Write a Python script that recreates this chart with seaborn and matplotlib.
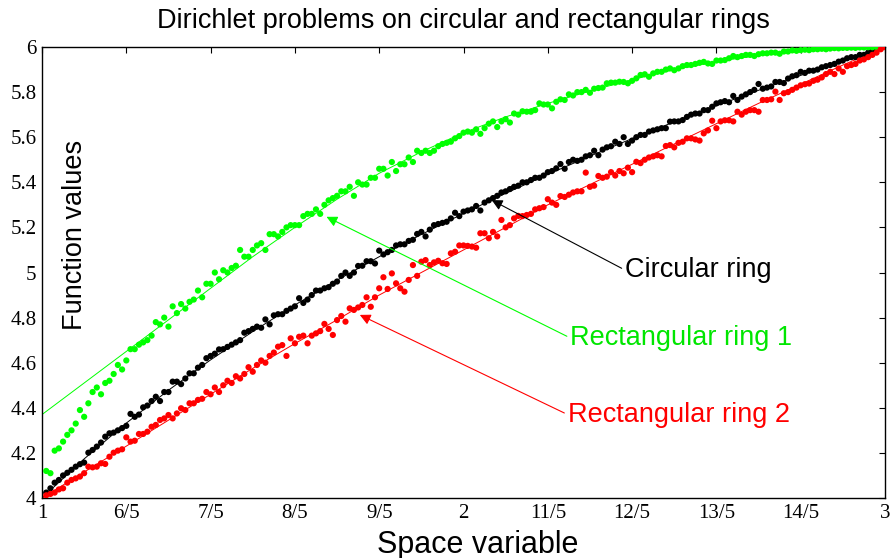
import numpy as np
import pandas as pd
import matplotlib
matplotlib.use("Agg")
import matplotlib.pyplot as plt
import seaborn as sns

# smooth reference curves, read at x = 1.0, 1.1, ..., 3.0
x_line = [1.0, 1.1, 1.2, 1.3, 1.4, 1.5, 1.6, 1.7, 1.8, 1.9, 2.0,
          2.1, 2.2, 2.3, 2.4, 2.5, 2.6, 2.7, 2.8, 2.9, 3.0]
circ_line = [4.0, 4.1735, 4.332, 4.478, 4.6125, 4.738, 4.856, 4.966, 5.070, 5.1685, 5.262,
             5.351, 5.435, 5.516, 5.594, 5.668, 5.7395, 5.808, 5.874, 5.938, 6.0]
rect1_line = [4.37, 4.51, 4.65, 4.79, 4.93, 5.07, 5.20, 5.325, 5.44, 5.535, 5.62,
              5.69, 5.75, 5.805, 5.855, 5.90, 5.935, 5.963, 5.983, 5.995, 6.0]
rect2_line = [4.0, 4.115, 4.23, 4.345, 4.46, 4.575, 4.685, 4.79, 4.90, 5.00, 5.10,
              5.20, 5.30, 5.39, 5.48, 5.57, 5.66, 5.75, 5.835, 5.92, 6.0]

# estimated points (200 per ring, x = 1.01 ... 3.00)
x_dots = np.round(np.linspace(1.01, 3.0, 200), 2)
circ_dots = [
    4.024, 4.043, 4.068, 4.080, 4.100, 4.112, 4.125, 4.139, 4.150, 4.157,
    4.201, 4.213, 4.228, 4.246, 4.272, 4.287, 4.290, 4.300, 4.310, 4.320,
    4.373, 4.360, 4.370, 4.402, 4.410, 4.430, 4.449, 4.430, 4.470, 4.470,
    4.516, 4.516, 4.505, 4.530, 4.553, 4.553, 4.578, 4.590, 4.620, 4.630,
    4.640, 4.659, 4.660, 4.670, 4.680, 4.690, 4.700, 4.733, 4.740, 4.750,
    4.760, 4.755, 4.792, 4.770, 4.810, 4.815, 4.815, 4.830, 4.840, 4.850,
    4.886, 4.865, 4.880, 4.900, 4.920, 4.920, 4.930, 4.935, 4.950, 4.960,
    4.985, 5.000, 4.985, 5.000, 5.029, 5.030, 5.050, 5.050, 5.040, 5.097,
    5.080, 5.090, 5.100, 5.120, 5.125, 5.125, 5.140, 5.145, 5.171, 5.180,
    5.160, 5.190, 5.210, 5.215, 5.220, 5.225, 5.240, 5.265, 5.250, 5.270,
    5.275, 5.280, 5.295, 5.275, 5.310, 5.320, 5.330, 5.340, 5.355, 5.360,
    5.370, 5.380, 5.385, 5.400, 5.400, 5.410, 5.420, 5.420, 5.430, 5.445,
    5.450, 5.462, 5.481, 5.460, 5.490, 5.500, 5.495, 5.500, 5.515, 5.520,
    5.540, 5.520, 5.545, 5.555, 5.560, 5.580, 5.570, 5.600, 5.570, 5.585,
    5.600, 5.610, 5.610, 5.625, 5.630, 5.635, 5.640, 5.640, 5.669, 5.670,
    5.670, 5.676, 5.690, 5.700, 5.705, 5.705, 5.720, 5.720, 5.735, 5.750,
    5.755, 5.760, 5.755, 5.783, 5.765, 5.780, 5.790, 5.800, 5.810, 5.836,
    5.815, 5.820, 5.825, 5.845, 5.845, 5.840, 5.860, 5.870, 5.875, 5.890,
    5.885, 5.895, 5.895, 5.900, 5.910, 5.915, 5.920, 5.925, 5.935, 5.940,
    5.950, 5.955, 5.955, 5.965, 5.965, 5.975, 5.985, 5.990, 5.995, 6.000,
]
rect1_dots = [
    4.12, 4.11, 4.21, 4.22, 4.25, 4.28, 4.30, 4.33, 4.39, 4.36,
    4.42, 4.47, 4.49, 4.46, 4.51, 4.52, 4.55, 4.59, 4.57, 4.61,
    4.66, 4.66, 4.68, 4.69, 4.70, 4.72, 4.78, 4.77, 4.80, 4.76,
    4.85, 4.82, 4.86, 4.84, 4.87, 4.88, 4.92, 4.89, 4.95, 4.95,
    5.00, 4.97, 5.01, 5.00, 5.02, 5.03, 5.10, 5.07, 5.07, 5.10,
    5.12, 5.13, 5.10, 5.17, 5.17, 5.16, 5.18, 5.20, 5.21, 5.21,
    5.21, 5.25, 5.26, 5.26, 5.28, 5.26, 5.30, 5.32, 5.33, 5.34,
    5.36, 5.36, 5.38, 5.34, 5.40, 5.39, 5.39, 5.42, 5.42, 5.46,
    5.46, 5.43, 5.49, 5.45, 5.48, 5.48, 5.51, 5.49, 5.54, 5.53,
    5.54, 5.53, 5.54, 5.56, 5.57, 5.575, 5.58, 5.595, 5.605, 5.62,
    5.625, 5.62, 5.635, 5.615, 5.64, 5.66, 5.67, 5.645, 5.67, 5.68,
    5.665, 5.705, 5.70, 5.715, 5.713, 5.713, 5.72, 5.75, 5.745, 5.745,
    5.728, 5.757, 5.768, 5.765, 5.79, 5.785, 5.80, 5.80, 5.81, 5.797,
    5.815, 5.818, 5.82, 5.839, 5.842, 5.842, 5.846, 5.845, 5.839, 5.85,
    5.861, 5.876, 5.879, 5.868, 5.883, 5.89, 5.89, 5.90, 5.905, 5.897,
    5.905, 5.915, 5.92, 5.92, 5.925, 5.93, 5.934, 5.927, 5.925, 5.94,
    5.94, 5.942, 5.95, 5.96, 5.955, 5.96, 5.965, 5.965, 5.96, 5.968,
    5.972, 5.972, 5.975, 5.975, 5.97, 5.98, 5.98, 5.985, 5.983, 5.986,
    5.988, 5.986, 5.99, 5.99, 5.992, 5.99, 5.993, 5.995, 5.994, 5.996,
    5.996, 5.997, 5.996, 5.998, 5.998, 5.999, 5.999, 6.0, 6.0, 6.0,
]
rect2_dots = [
    4.012, 4.018, 4.024, 4.038, 4.043, 4.068, 4.080, 4.087, 4.095, 4.110,
    4.139, 4.136, 4.139, 4.154, 4.151, 4.183, 4.201, 4.210, 4.216, 4.269,
    4.250, 4.254, 4.284, 4.284, 4.294, 4.316, 4.324, 4.346, 4.353, 4.368,
    4.353, 4.375, 4.398, 4.390, 4.420, 4.420, 4.435, 4.440, 4.470, 4.460,
    4.490, 4.470, 4.500, 4.520, 4.510, 4.540, 4.530, 4.550, 4.580, 4.560,
    4.590, 4.610, 4.600, 4.630, 4.645, 4.671, 4.678, 4.630, 4.708, 4.686,
    4.715, 4.720, 4.686, 4.720, 4.730, 4.740, 4.772, 4.750, 4.723, 4.789,
    4.807, 4.782, 4.841, 4.834, 4.845, 4.856, 4.890, 4.848, 4.890, 4.930,
    4.979, 4.927, 4.996, 4.952, 4.930, 4.915, 4.967, 5.033, 4.985, 5.048,
    5.055, 5.033, 5.045, 5.052, 5.041, 5.038, 5.085, 5.092, 5.120, 5.120,
    5.118, 5.115, 5.110, 5.174, 5.174, 5.152, 5.180, 5.160, 5.233, 5.200,
    5.210, 5.240, 5.251, 5.250, 5.255, 5.260, 5.280, 5.285, 5.290, 5.325,
    5.310, 5.300, 5.339, 5.335, 5.345, 5.355, 5.360, 5.360, 5.443, 5.380,
    5.385, 5.428, 5.420, 5.425, 5.445, 5.430, 5.450, 5.440, 5.465, 5.445,
    5.491, 5.485, 5.500, 5.510, 5.515, 5.520, 5.515, 5.561, 5.565, 5.555,
    5.575, 5.580, 5.595, 5.595, 5.590, 5.585, 5.617, 5.630, 5.673, 5.640,
    5.670, 5.675, 5.675, 5.670, 5.713, 5.700, 5.713, 5.720, 5.720, 5.713,
    5.765, 5.765, 5.768, 5.802, 5.765, 5.795, 5.800, 5.810, 5.820, 5.830,
    5.835, 5.838, 5.850, 5.855, 5.865, 5.880, 5.890, 5.880, 5.905, 5.890,
    5.915, 5.920, 5.925, 5.940, 5.945, 5.955, 5.965, 5.975, 5.990, 6.000,
]

x_ticks = [1, 1.2, 1.4, 1.6, 1.8, 2, 2.2, 2.4, 2.6, 2.8, 3]
x_tick_labels = ["1", "6/5", "7/5", "8/5", "9/5", "2", "11/5", "12/5", "13/5", "14/5", "3"]
y_ticks = [4, 4.2, 4.4, 4.6, 4.8, 5, 5.2, 5.4, 5.6, 5.8, 6]
y_tick_labels = ["4", "4.2", "4.4", "4.6", "4.8", "5", "5.2", "5.4", "5.6", "5.8", "6"]

rings = ["circ", "rect1", "rect2"]
palette = {"circ": "#000000", "rect1": "#00ff00", "rect2": "#ff0000"}

lines = pd.concat([
    pd.DataFrame({"x": x_line, "y": circ_line, "ring": "circ"}),
    pd.DataFrame({"x": x_line, "y": rect1_line, "ring": "rect1"}),
    pd.DataFrame({"x": x_line, "y": rect2_line, "ring": "rect2"}),
], ignore_index=True)
dots = pd.concat([
    pd.DataFrame({"x": x_dots, "y": circ_dots, "ring": "circ"}),
    pd.DataFrame({"x": x_dots, "y": rect1_dots, "ring": "rect1"}),
    pd.DataFrame({"x": x_dots, "y": rect2_dots, "ring": "rect2"}),
], ignore_index=True)

sns.set_style("white")
plt.rcParams["font.family"] = ["Liberation Sans", "DejaVu Sans"]
plt.rcParams["text.color"] = "black"
plt.rcParams["axes.labelcolor"] = "black"

fig = plt.figure(figsize=(8.91, 5.58), dpi=100)
ax = fig.add_axes([42 / 891, 1 - 498 / 558, 843 / 891, 451 / 558])

sns.lineplot(data=lines, x="x", y="y", hue="ring", hue_order=rings, palette=palette,
             estimator=None, sort=False, lw=0.7, legend=False, ax=ax, zorder=2)
sns.scatterplot(data=dots, x="x", y="y", hue="ring", hue_order=rings, palette=palette,
                s=20, linewidth=0, legend=False, ax=ax, zorder=3)

ax.set_xlim(1, 3)
ax.set_ylim(4, 6)
ax.set_xticks(x_ticks)
ax.set_xticklabels(x_tick_labels)
ax.set_yticks(y_ticks)
ax.set_yticklabels(y_tick_labels)
ax.tick_params(direction="in", top=True, right=True, length=4, width=0.8,
               labelsize=15, labelfontfamily="Liberation Serif", colors="black", pad=4)
for sp in ax.spines.values():
    sp.set_color("black")
    sp.set_linewidth(1.0)

ax.set_title("Dirichlet problems on circular and rectangular rings", fontsize=19.5,
             pad=14, color="black")
ax.set_xlabel("Space variable", fontsize=22)
ax.xaxis.set_label_coords(0.517, -0.07)
ax.set_ylabel("Function values", fontsize=19.5)
ax.yaxis.set_label_coords(0.039, 0.583)
ax.yaxis.label.set_va("center")

arrow = dict(arrowstyle="-|>", lw=0.8, mutation_scale=16, shrinkA=0, shrinkB=0, relpos=(0, 0.5))
ax.annotate("Circular ring", xy=(2.067, 5.321), xytext=(2.383, 5.011), fontsize=19.5,
            color="black", ha="left", va="center", zorder=4,
            arrowprops=dict(arrow, color="black"))
ax.annotate("Rectangular ring 1", xy=(1.675, 5.247), xytext=(2.253, 4.71), fontsize=19.5,
            color="#00e600", ha="left", va="center", zorder=4,
            arrowprops=dict(arrow, color="#00ff00"))
ax.annotate("Rectangular ring 2", xy=(1.754, 4.812), xytext=(2.247, 4.37), fontsize=19.5,
            color="#ff0000", ha="left", va="center", zorder=4,
            arrowprops=dict(arrow, color="#ff0000"))

fig.savefig("out.png", dpi=100)
